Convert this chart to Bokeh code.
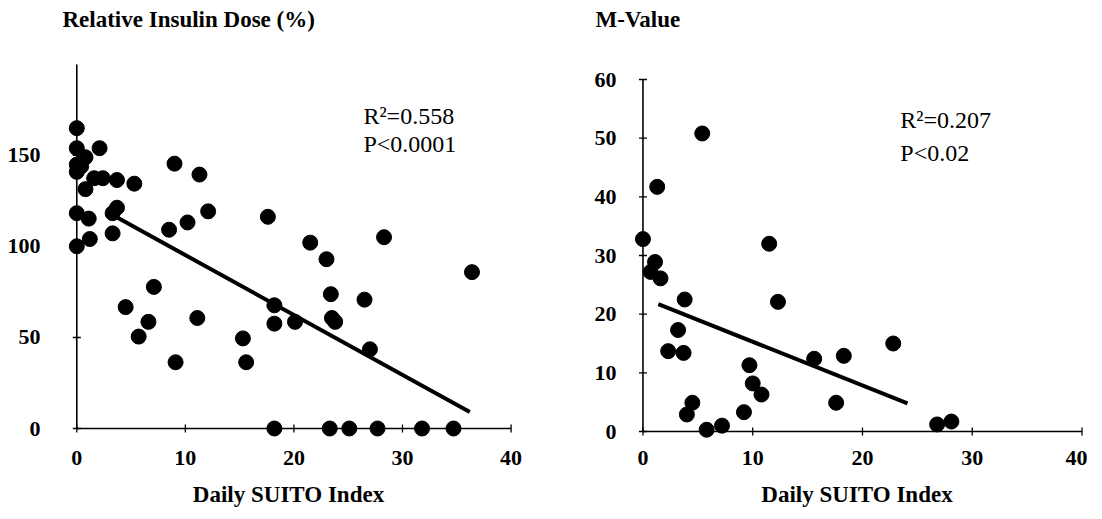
import math
from bokeh.plotting import figure
from bokeh.models import Range1d, FixedTicker
from bokeh.layouts import row
from bokeh.embed import file_html
from bokeh.resources import INLINE

# ---- data: left panel (Relative Insulin Dose %) ----
dose_x = [0, 0, 2.1, 0.8, 0, 0, 0.4, 1.6, 2.4, 3.7, 5.3, 0.8, 9.0, 11.3, 0, 1.1, 3.3, 3.7,
          12.1, 10.2, 8.5, 17.6, 3.3, 1.2, 0, 21.5, 28.3, 4.5, 7.1, 6.6, 5.7, 9.1, 11.1,
          15.3, 15.6, 18.2, 18.2, 23.0, 36.4, 23.4, 26.5, 20.1, 23.5, 23.8, 27.0,
          18.2, 23.3, 25.1, 27.7, 31.8, 34.7]
dose_y = [165, 154, 154, 149, 145, 141, 144, 137.5, 137.5, 136.5, 134.5, 131.5, 145.5, 139.5,
          118.3, 115.3, 118.3, 121.3, 119.3, 113.2, 109.2, 116.3, 107.2, 104.1, 100.1, 102.1, 105.1,
          66.7, 77.8, 58.6, 50.5, 36.4, 60.7, 49.5, 36.4, 67.7, 57.6, 93, 85.9, 73.8, 70.8,
          58.6, 60.7, 58.6, 43.5,
          0, 0, 0, 0, 0, 0]
dose_fit_x = [3.6, 36.2]
dose_fit_y = [116.3, 9.1]
dose_ticks = [0, 50, 100, 150]
dose_axis_max = 200
dose_stats = ["R²=0.558", "P<0.0001"]

# ---- data: right panel (M-Value) ----
mval_x = [5.4, 1.3, 0, 11.5, 1.1, 0.7, 1.6, 3.8, 12.3, 3.2, 2.3, 3.7, 22.8, 15.6, 18.3,
          9.7, 10.0, 10.8, 4.5, 4.0, 9.2, 17.6, 5.8, 7.2, 26.8, 28.1]
mval_y = [50.8, 41.7, 32.8, 32.0, 28.9, 27.2, 26.1, 22.5, 22.1, 17.3, 13.7, 13.4, 15.0, 12.4, 12.9,
          11.3, 8.2, 6.3, 4.9, 2.9, 3.3, 4.9, 0.3, 1.0, 1.2, 1.7]
mval_fit_x = [1.4, 24.1]
mval_fit_y = [21.7, 4.8]
mval_ticks = [0, 10, 20, 30, 40, 50, 60]
mval_axis_max = 60
mval_stats = ["R²=0.207", "P<0.02"]

x_ticks = [0, 10, 20, 30, 40]
x_label = "Daily SUITO Index"

SERIF = "Liberation Serif"
H = 515
TOP = 35       # frame top (both frames are aligned by the row)
FRAME_H = 406


def panel(title, xs, ys, fx, fy, yticks, ymax, yrange, stats, stats_xy,
          title_offset, width, bl, br, ylab_standoff):
    p = figure(width=width, height=H,
               x_range=Range1d(-1.5, 40.5), y_range=Range1d(*yrange),
               output_backend="svg", toolbar_location=None,
               min_border_left=bl, min_border_right=br,
               min_border_top=TOP, min_border_bottom=H - TOP - FRAME_H,
               title=title)
    p.outline_line_color = None
    p.xgrid.visible = False
    p.ygrid.visible = False
    p.background_fill_color = "white"
    p.border_fill_color = "white"

    p.title.text_font = SERIF
    p.title.text_font_style = "bold"
    p.title.text_font_size = "23px"
    p.title.text_color = "black"
    p.title.align = "left"
    p.title.offset = title_offset
    p.title.standoff = 7

    for ax, ticks in ((p.xaxis[0], x_ticks), (p.yaxis[0], yticks)):
        ax.ticker = FixedTicker(ticks=ticks)
        ax.axis_line_color = None
        ax.major_tick_line_color = None
        ax.minor_tick_line_color = None
        ax.major_label_text_font = SERIF
        ax.major_label_text_font_style = "bold"
        ax.major_label_text_font_size = "22px"
        ax.major_label_text_color = "black"

    p.xaxis.major_label_standoff = 3
    p.yaxis.major_label_standoff = ylab_standoff
    p.xaxis.axis_label = x_label
    p.xaxis.axis_label_text_font = SERIF
    p.xaxis.axis_label_text_font_style = "bold"
    p.xaxis.axis_label_text_font_size = "23px"
    p.xaxis.axis_label_text_color = "black"
    p.xaxis.axis_label_standoff = 14

    # axis rules through the origin, with outward tick marks
    p.segment(x0=[x_ticks[0]], y0=[0], x1=[x_ticks[-1]], y1=[0], line_color="black", line_width=1.6)
    p.segment(x0=[0], y0=[yticks[0]], x1=[0], y1=[ymax], line_color="black", line_width=1.6)
    p.scatter([0] * len(yticks), yticks, marker="dash", size=8, line_color="black", line_width=1.3)
    p.scatter(x_ticks, [0] * len(x_ticks), marker="dash", angle=math.pi / 2, size=8,
              line_color="black", line_width=1.3)

    p.line(fx, fy, line_color="black", line_width=4)
    p.scatter(xs, ys, size=15, fill_color="black", line_color="black")
    sx, sy = stats_xy
    p.text(sx, sy, text=stats, text_font={"value": SERIF}, text_font_size="24px",
           text_baseline="top", text_align="left", text_color="black")
    return p


left = panel("Relative Insulin Dose (%)", dose_x, dose_y, dose_fit_x, dose_fit_y,
             dose_ticks, dose_axis_max, (-7.14, 215.9), dose_stats, ([26.4, 26.4], [178.6, 163.2]),
             2, 534, 60, 18, 14)
right = panel("M-Value", mval_x, mval_y, mval_fit_x, mval_fit_y,
              mval_ticks, mval_axis_max, (-1.704, 67.5), mval_stats, ([23.45, 23.45], [55.33, 49.7]),
              -31, 553, 92, 0, 4)

layout = row(left, right)
open("out.html", "w").write(file_html(layout, INLINE))
